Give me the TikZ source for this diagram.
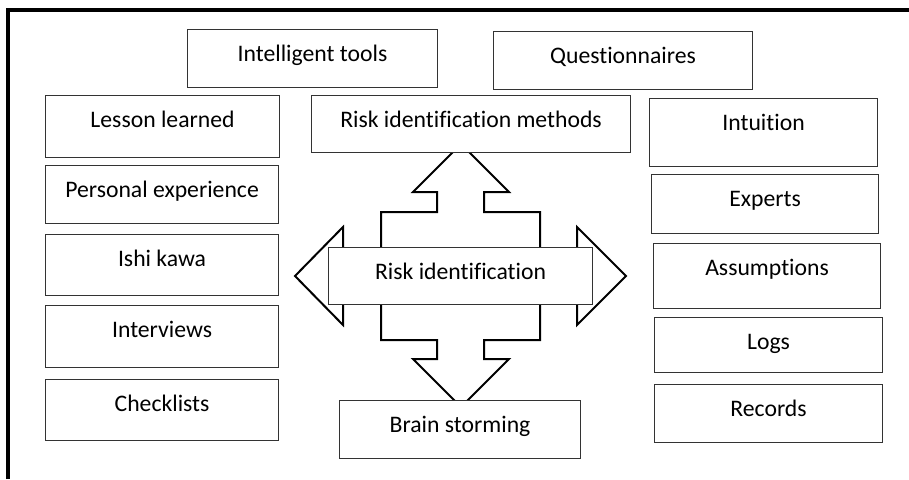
\documentclass[tikz,border=0pt]{standalone}
\usepackage{fontspec}
\setmainfont{Carlito}[Ligatures=NoCommon]
\begin{document}
\begin{tikzpicture}[x=1pt,y=-1pt,
  rbox/.style 2 args={draw=black!80, line width=1.1pt, fill=white, inner sep=0pt,
    minimum width=#1pt, text height=32pt, text depth=#2pt, anchor=north west,
    font=\fontsize{23.7}{28}\selectfont},
  arrowshape/.style={draw=black, line width=2pt, fill=white, line join=miter}]
\useasboundingbox (0,0) rectangle (909,479);
% frame
\draw[line width=4pt, line join=miter] (7.5,479) -- (7.5,10) -- (909,10);
% arrows
\draw[arrowshape] (295,276) -- (343,227) -- (343,255) -- (577,255) -- (577,227)
  -- (626,276) -- (577,325) -- (577,297) -- (343,297) -- (343,325) -- cycle;
\draw[arrowshape] (461,144) -- (509,192) -- (484,192) -- (484,212) -- (540,212)
  -- (540,340) -- (484,340) -- (484,359) -- (509,359) -- (461,407) -- (413,359)
  -- (437,359) -- (437,340) -- (381,340) -- (381,212) -- (437,212) -- (437,192)
  -- (413,192) -- cycle;
% boxes
\node[rbox={250}{26}] (tools) at (187,29) {Intelligent tools};
\node[rbox={259}{26}] (quest) at (493,31) {Questionnaires};
\node[rbox={234}{30}] (lesson) at (45,95) {Lesson learned};
\node[rbox={319}{25}] (methods) at (311,95) {Risk identification methods};
\node[rbox={228}{36}] (intuition) at (649,98) {Intuition};
\node[rbox={233}{26}] (personal) at (45,165) {Personal experience};
\node[rbox={233}{29}] (ishi) at (45,234) {Ishi kawa};
\node[rbox={233}{30}] (interviews) at (45,305) {Interviews};
\node[rbox={233}{29}] (checklists) at (45,379) {Checklists};
\node[rbox={227}{27}] (experts) at (651,174) {Experts};
\node[rbox={227}{33}] (assumptions) at (653,243) {Assumptions};
\node[rbox={228}{23}] (logs) at (654,317) {Logs};
\node[rbox={228}{26}] (records) at (654,384) {Records};
\node[rbox={241}{26}] (brain) at (339,400) {Brain storming};
\node[rbox={264}{25}] (center) at (328,247) {Risk identification};
\end{tikzpicture}
\end{document}
